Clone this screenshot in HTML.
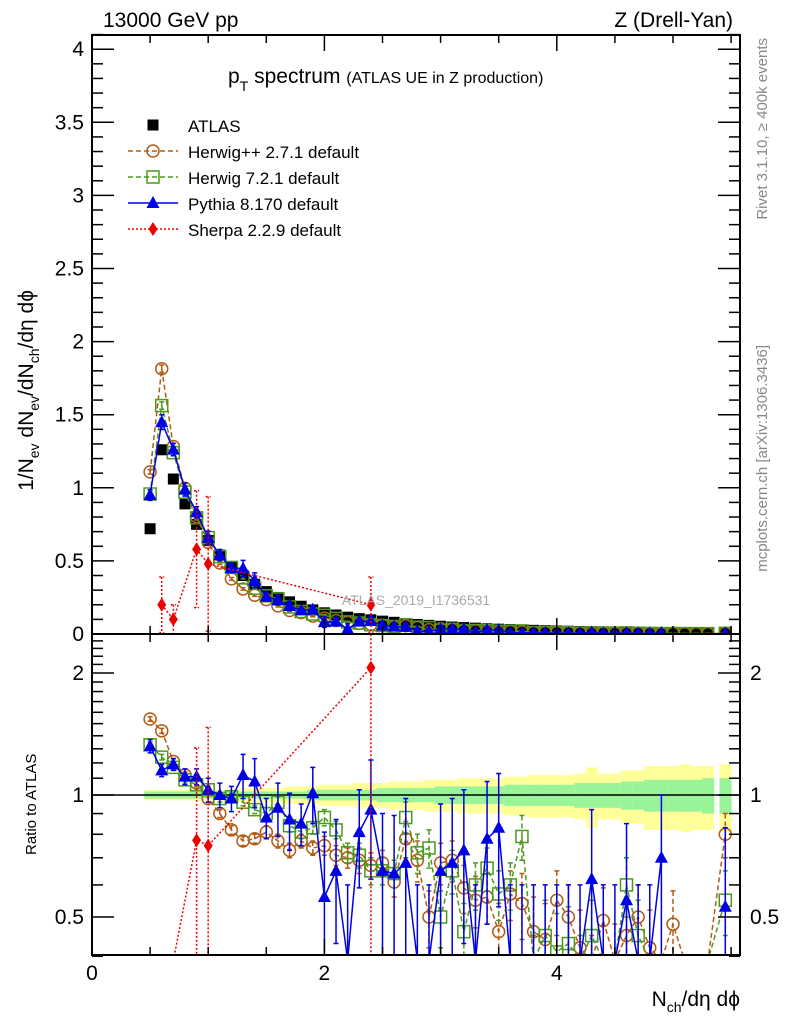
<!DOCTYPE html>
<html><head><meta charset="utf-8"><style>
html,body{margin:0;padding:0;background:#fff;width:786px;height:1024px;overflow:hidden}
svg{display:block;font-family:"Liberation Sans",sans-serif}
</style></head><body>
<svg id="chart" width="786" height="1024" viewBox="0 0 786 1024">
<defs>
<clipPath id="cm"><rect x="92" y="35" width="648" height="599"/></clipPath>
<clipPath id="cr"><rect x="92" y="634" width="648" height="321"/></clipPath>
</defs>
<g id="bands" clip-path="url(#cr)"></g>
<g id="layer"></g>
<rect x="92" y="35" width="648" height="599" fill="none" stroke="#000" stroke-width="2"/>
<rect x="92" y="634" width="648" height="321" fill="none" stroke="#000" stroke-width="2"/>
<g id="axes"></g>
<text x="103" y="27" font-size="21">13000 GeV pp</text>
<text x="733" y="27" font-size="21" text-anchor="end">Z (Drell-Yan)</text>
<text x="228" y="83" font-size="21">p<tspan dy="8" font-size="14">T</tspan><tspan dy="-8"> spectrum </tspan><tspan font-size="16">(ATLAS UE in Z production)</tspan></text>
<text x="416" y="605" font-size="14" fill="#aaa" text-anchor="middle">ATLAS_2019_I1736531</text>
<text transform="translate(767,38) rotate(-90)" font-size="15" fill="#888" text-anchor="end">Rivet 3.1.10, ≥ 400k events</text>
<text transform="translate(767,345) rotate(-90)" font-size="15" fill="#888" text-anchor="end">mcplots.cern.ch [arXiv:1306.3436]</text>
<text transform="translate(33,290) rotate(-90)" font-size="21" text-anchor="end">1/N<tspan font-size="14" dy="6">ev</tspan><tspan dy="-6"> dN</tspan><tspan font-size="14" dy="6">ev</tspan><tspan dy="-6">/dN</tspan><tspan font-size="14" dy="6">ch</tspan><tspan dy="-6">/dη dϕ</tspan></text>
<text transform="translate(36,855) rotate(-90)" font-size="15">Ratio to ATLAS</text>
<text x="740" y="1006" font-size="21" text-anchor="end">N<tspan font-size="14" dy="6">ch</tspan><tspan dy="-6">/dη dϕ</tspan></text>
<g id="legend"></g>
</svg>
<script>
const xs = [0.5,0.6,0.7,0.8,0.9,1.0,1.1,1.2,1.3,1.4,1.5,1.6,1.7,1.8,1.9,2.0,2.1,2.2,2.3,2.4,2.5,2.6,2.7,2.8,2.9,3.0,3.1,3.2,3.3,3.4,3.5,3.6,3.7,3.8,3.9,4.0,4.1,4.2,4.3,4.4,4.5,4.6,4.7,4.8,4.9,5.0,5.1,5.2,5.3,5.45];
const atlas = [0.72,1.26,1.06,0.89,0.75,0.64,0.54,0.46,0.40,0.34,0.29,0.25,0.22,0.19,0.165,0.145,0.13,0.115,0.105,0.097,0.088,0.08,0.072,0.065,0.059,0.053,0.048,0.044,0.040,0.036,0.033,0.030,0.027,0.025,0.023,0.021,0.019,0.017,0.016,0.015,0.014,0.013,0.012,0.011,0.010,0.010,0.009,0.009,0.008,0.008];
const hwppRatio = [1.54,1.44,1.21,1.12,1.07,0.98,0.90,0.82,0.77,0.78,0.81,0.77,0.73,0.77,0.74,0.75,0.71,0.70,0.69,0.67,0.68,0.61,0.78,0.69,0.50,0.68,0.69,0.59,0.55,0.56,0.46,0.57,0.54,0.46,0.44,0.55,0.50,0.42,0.35,0.49,0.38,0.45,0.50,0.42,0.30,0.48,0.30,0.30,0.30,0.80];
const hw7Ratio = [1.33,1.24,1.17,1.09,1.06,1.03,0.98,0.99,0.96,0.92,0.90,0.96,0.84,0.81,0.83,0.88,0.82,0.72,0.71,0.65,0.65,0.64,0.88,0.72,0.74,0.50,0.65,0.46,0.60,0.66,0.57,0.60,0.79,0.35,0.45,0.41,0.43,0.35,0.45,0.30,0.30,0.60,0.45,0.30,0.30,0.30,0.30,0.30,0.30,0.55];
const py8Ratio = [1.32,1.15,1.19,1.11,1.11,1.03,1.00,0.98,1.12,1.08,0.88,0.93,0.87,0.85,1.01,0.56,0.65,0.30,0.81,0.92,0.65,0.64,0.68,0.30,0.30,0.65,0.68,0.73,0.30,0.78,0.83,0.30,0.30,0.30,0.30,0.30,0.30,0.30,0.62,0.30,0.30,0.55,0.30,0.30,0.70,null,null,null,null,0.53];
const py8Err = [0.05,0.04,0.04,0.05,0.05,0.07,0.07,0.07,0.14,0.15,0.10,0.14,0.14,0.10,0.16,0.25,0.22,0.3,0.22,0.3,0.25,0.25,0.3,0.3,0.3,0.3,0.3,0.3,0.3,0.3,0.3,0.3,0.3,0.3,0.3,0.3,0.3,0.3,0.3,0.3,0.3,0.3,0.3,0.3,0.3,0,0,0,0,0.3];
const hwErr = [0.02,0.02,0.02,0.02,0.02,0.02,0.02,0.02,0.02,0.02,0.03,0.03,0.03,0.03,0.03,0.04,0.04,0.04,0.05,0.05,0.05,0.05,0.08,0.08,0.08,0.08,0.08,0.08,0.08,0.08,0.08,0.08,0.1,0.1,0.1,0.1,0.1,0.1,0.1,0.1,0.1,0.1,0.1,0.1,0.1,0.1,0.1,0.1,0.1,0.1];
const statBand = [0.02,0.02,0.02,0.02,0.02,0.02,0.02,0.02,0.02,0.02,0.02,0.02,0.02,0.02,0.03,0.03,0.03,0.03,0.03,0.03,0.04,0.04,0.04,0.04,0.04,0.05,0.05,0.05,0.05,0.05,0.05,0.06,0.06,0.06,0.06,0.06,0.06,0.07,0.07,0.07,0.07,0.08,0.08,0.09,0.09,0.09,0.09,0.09,0.1,0.1];
const totBand = [0.03,0.03,0.03,0.03,0.03,0.03,0.03,0.03,0.04,0.04,0.04,0.04,0.05,0.05,0.05,0.06,0.06,0.06,0.07,0.07,0.07,0.08,0.08,0.08,0.09,0.09,0.09,0.10,0.10,0.10,0.10,0.11,0.11,0.12,0.12,0.12,0.12,0.13,0.17,0.13,0.13,0.15,0.15,0.18,0.18,0.18,0.19,0.18,0.18,0.19];
const sherpaX = [0.6,0.7,0.9,1.0,2.4];
const sherpaY = [0.20,0.10,0.58,0.48,0.20];
const sherpaErr = [0.19,0.10,0.40,0.46,0.19];
const sherpaAtlasIdx = [1,2,4,5,19];
const mainTicks = [0,0.5,1,1.5,2,2.5,3,3.5,4];
const mainTickLabels = ["0","0.5","1","1.5","2","2.5","3","3.5","4"];
const ratioTicks = [0.5,1,2];
const ratioTickLabels = ["0.5","1","2"];
const xTicks = [0,2,4];
const xTickLabels = ["0","2","4"];

const NS="http://www.w3.org/2000/svg";
const X = v => 92 + v*116.2;
const YM = v => 634 - Math.max(0,v)*146.2;
// ratio axis (log2), clamped to the visible panel range
const YR = v => 795 - Math.log2(Math.min(2.55,Math.max(0.39,v)))*122;
function mk(tag, attrs, parent){const e=document.createElementNS(NS,tag);for(const k in attrs)e.setAttribute(k,attrs[k]);parent.appendChild(e);return e;}
const layer=document.getElementById('layer'), axes=document.getElementById('axes'), bands=document.getElementById('bands'), legend=document.getElementById('legend');
const gMain=mk('g',{'clip-path':'url(#cm)'},layer);
const gRatio=mk('g',{'clip-path':'url(#cr)'},layer);

xs.forEach((x,i)=>{
  const lo=X(x-0.05), w=X(x+0.05)-lo;
  const t=mk('rect',{x:lo,y:YR(1+totBand[i]),width:w+0.5,height:YR(1-totBand[i])-YR(1+totBand[i]),fill:'#ffff99'},bands);
  
  
  const s=mk('rect',{x:lo,y:YR(1+statBand[i]),width:w+0.5,height:YR(1-statBand[i])-YR(1+statBand[i]),fill:'#99f399'},bands);
  
  
});
const ref=mk('line',{x1:92,x2:740,y1:YR(1),y2:YR(1),stroke:'#000','stroke-width':1.5},gRatio);



function marker(g,type,cx,cy,col,name){
  let e;
  if(type==='circle') e=mk('circle',{cx:cx,cy:cy,r:6,fill:'none',stroke:col,'stroke-width':1.5},g);
  else if(type==='square') e=mk('rect',{x:cx-6,y:cy-6,width:12,height:12,fill:'none',stroke:col,'stroke-width':1.5},g);
  else if(type==='tri') e=mk('path',{d:`M${cx},${cy-7}L${cx+6.5},${cy+5}L${cx-6.5},${cy+5}Z`,fill:col},g);
  else if(type==='diamond') e=mk('path',{d:`M${cx},${cy-7}L${cx+4.5},${cy}L${cx},${cy+7}L${cx-4.5},${cy}Z`,fill:col},g);
  else if(type==='fsq') e=mk('rect',{x:cx-5.5,y:cy-5.5,width:11,height:11,fill:col},g);
  
  
}
function errbar(g,cx,y1,y2,col,dash,name){
  const e=mk('path',{d:`M${cx},${y1}V${y2}M${cx-2.5},${y1}H${cx+2.5}M${cx-2.5},${y2}H${cx+2.5}`,stroke:col,'stroke-width':1.5,fill:'none','stroke-dasharray':dash},g);
  
  
}
function series(ratio,err,col,dash,type,name){
  let dm='',dr='',pm=false,pr=false;
  xs.forEach((x,i)=>{
    const r=ratio[i];
    if(r===null){pm=pr=false;return;}
    const v=atlas[i]*r;
    dm+=(pm?'L':'M')+X(x)+','+YM(v); pm=true;
    dr+=(pr?'L':'M')+X(x)+','+YR(r); pr=true;
  });
  const lm=mk('path',{d:dm,stroke:col,fill:'none','stroke-width':1.5,'stroke-dasharray':dash},gMain);
  
  
  const lr=mk('path',{d:dr,stroke:col,fill:'none','stroke-width':1.5,'stroke-dasharray':dash},gRatio);
  
  
  xs.forEach((x,i)=>{
    const r=ratio[i]; if(r===null)return;
    const v=atlas[i]*r;
    if(err[i]>0){
      errbar(gRatio,X(x),YR(r+err[i]),YR(r-err[i]),col,dash,name+'-ratio-error');
      errbar(gMain,X(x),YM(v*(1+err[i]/r)),YM(v*(1-err[i]/r)),col,dash,name+'-error');
    }
    marker(gMain,type,X(x),YM(v),col,name+'-point');
    if(r>0.36) marker(gRatio,type,X(x),YR(r),col,name+'-ratio-point');
  });
}
xs.forEach((x,i)=>{ marker(gMain,'fsq',X(x),YM(atlas[i]),'#000','atlas-point'); });
series(hwppRatio,hwErr,'#b35a14','5,3','circle','herwigpp');
series(hw7Ratio,hwErr,'#4c9a1c','5,3','square','herwig7');
series(py8Ratio,py8Err,'#0000e6','','tri','pythia8');
let sdm='',sdr='';
sherpaX.forEach((x,i)=>{
  const r=sherpaY[i]/atlas[sherpaAtlasIdx[i]];
  sdm+=(i?'L':'M')+X(x)+','+YM(sherpaY[i]);
  sdr+=(i?'L':'M')+X(x)+','+YR(r);
});
const sl=mk('path',{d:sdm,stroke:'#ee0000',fill:'none','stroke-width':1.5,'stroke-dasharray':'2,2'},gMain);


const slr=mk('path',{d:sdr,stroke:'#ee0000',fill:'none','stroke-width':1.5,'stroke-dasharray':'2,2'},gRatio);


sherpaX.forEach((x,i)=>{
  const a=atlas[sherpaAtlasIdx[i]], r=sherpaY[i]/a;
  errbar(gMain,X(x),YM(sherpaY[i]+sherpaErr[i]),YM(sherpaY[i]-sherpaErr[i]),'#ee0000','2,2','sherpa-error');
  errbar(gRatio,X(x),YR((sherpaY[i]+sherpaErr[i])/a),YR((sherpaY[i]-sherpaErr[i])/a),'#ee0000','2,2','sherpa-ratio-error');
  marker(gMain,'diamond',X(x),YM(sherpaY[i]),'#ee0000','sherpa-point');
  if(r>0.36) marker(gRatio,'diamond',X(x),YR(r),'#ee0000','sherpa-ratio-point');
});

function tick(x1,y1,x2,y2){const t=mk('line',{x1:x1,y1:y1,x2:x2,y2:y2,stroke:'#000','stroke-width':1.5},axes);
  
  }
function label(x,y,s,anchor,name){const t=mk('text',{x:x,y:y,'font-size':21,'text-anchor':anchor},axes);t.textContent=s;
  
  }
for(let k=0;k<=41;k++){const v=k/10,y=YM(v),maj=k%5===0;
  tick(92,y,92+(maj?22:11),y); tick(740,y,740-(maj?22:11),y);}
mainTicks.forEach((v,i)=>label(84,YM(v)+7,mainTickLabels[i],'end','y-tick-label'));
const rMinor=[0.4,0.6,0.7,0.8,0.9,1.1,1.2,1.3,1.4,1.5,1.6,1.7,1.8,1.9,2.1,2.2,2.3,2.4];
rMinor.forEach(v=>{const y=YR(v);tick(92,y,103,y);tick(740,y,729,y);});
ratioTicks.forEach((v,i)=>{const y=YR(v);tick(92,y,114,y);tick(740,y,718,y);
  label(84,y+7,ratioTickLabels[i],'end','ratio-tick-label');
  label(750,y+7,ratioTickLabels[i],'start','ratio-tick-label-right');});
for(let k=0;k<=11;k++){const v=k/2,x=X(v);if(x>740)break;const maj=k%4===0;
  tick(x,955,x,955-(maj?16:8)); tick(x,634,x,634-(maj?16:8)); tick(x,634,x,634+(maj?16:8)); tick(x,35,x,35+(maj?16:8));}
xTicks.forEach((v,i)=>label(X(v),980,xTickLabels[i],'middle','x-tick-label'));

const leg=[['ATLAS','#000','','fsq',false],['Herwig++ 2.7.1 default','#b35a14','5,3','circle',true],['Herwig 7.2.1 default','#4c9a1c','5,3','square',true],['Pythia 8.170 default','#0000e6','','tri',true],['Sherpa 2.2.9 default','#ee0000','2,2','diamond',true]];
leg.forEach((l,i)=>{const y=125+i*26;
  const g=mk('g',{},legend);
  
  
  if(l[4]){const ln=mk('line',{x1:128,x2:178,y1:y,y2:y,stroke:l[1],'stroke-width':1.5,'stroke-dasharray':l[2]},g);
    
    }
  marker(g,l[3],153,y,l[1],'legend-marker');
  const t=mk('text',{x:188,y:y+7,'font-size':17},g);t.textContent=l[0];
  
  
});
</script>
</body></html>
